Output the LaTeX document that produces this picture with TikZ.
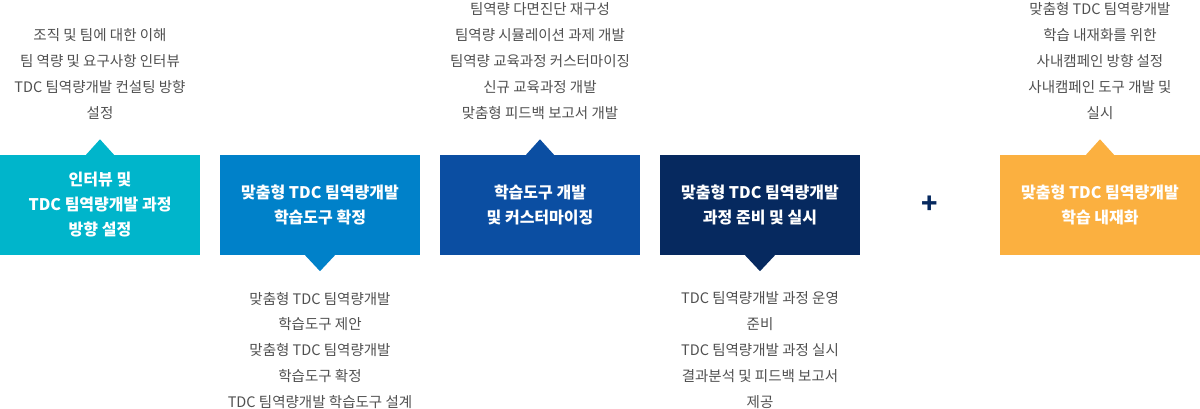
\documentclass[tikz,border=0pt]{standalone}
\usepackage{fontspec}
\setmainfont{Noto Sans CJK KR}
\usetikzlibrary{positioning}
\definecolor{interview}{HTML}{00B5CB}
\definecolor{tool}{HTML}{0081C9}
\definecolor{custom}{HTML}{0B4EA2}
\definecolor{run}{HTML}{06295F}
\definecolor{inner}{HTML}{FBB040}
\definecolor{notegray}{HTML}{505050}
\begin{document}
\begin{tikzpicture}[x=1pt, y=-1pt,
	stage/.style={minimum width=200pt, minimum height=100pt, inner sep=0pt, align=center, text=white, font=\fontsize{16}{25}\selectfont\bfseries},
	note/.style={align=center, inner sep=0pt, text=notegray, font=\fontsize{14.5}{25.9}\selectfont}]
		\useasboundingbox (0,0) rectangle (1200,409);
		\node[stage, fill=interview] (I) at (100,205) {인터뷰 및\\TDC 팀역량개발 과정\\방향 설정};
		\node[stage, fill=tool] (T) at (320,205) {맞춤형 TDC 팀역량개발\\학습도구 확정};
		\node[stage, fill=custom] (C) at (540,205) {학습도구 개발\\및 커스터마이징};
		\node[stage, fill=run] (R) at (760,205) {맞춤형 TDC 팀역량개발\\과정 준비 및 실시};
		\node[text=run, font=\fontsize{27}{27}\selectfont\bfseries] (P) at (930,205) {+};
		\node[stage, fill=inner] (N) at (1100,205) {맞춤형 TDC 팀역량개발\\학습 내재화};
		
		% pointers
		\fill[interview] (I.north) ++(-14,0) -- ++(14,-15.5) -- ++(14,15.5) -- cycle;
		\fill[tool] (T.south) ++(-15,0) -- ++(15,16) -- ++(15,-16) -- cycle;
		\fill[custom] (C.north) ++(-14,0) -- ++(14,-15.5) -- ++(14,15.5) -- cycle;
		\fill[run] (R.south) ++(-15,0) -- ++(15,16) -- ++(15,-16) -- cycle;
		\fill[inner] (N.north) ++(-14,0) -- ++(14,-15.5) -- ++(14,15.5) -- cycle;
		
		% notes
		\node[note, above=35pt of I] (In) {조직 및 팀에 대한 이해\\팀 역량 및 요구사항 인터뷰\\TDC 팀역량개발 컨설팅 방향\\설정};
		\node[note, below=36.5pt of T] (Tn) {맞춤형 TDC 팀역량개발\\학습도구 제안\\맞춤형 TDC 팀역량개발\\학습도구 확정\\TDC 팀역량개발 학습도구 설계};
		\node[note, above=35pt of C] (Cn) {팀역량 다면진단 재구성\\팀역량 시뮬레이션 과제 개발\\팀역량 교육과정 커스터마이징\\신규 교육과정 개발\\맞춤형 피드백 보고서 개발};
		\node[note, below=36.5pt of R] (Rn) {TDC 팀역량개발 과정 운영\\준비\\TDC 팀역량개발 과정 실시\\결과분석 및 피드백 보고서\\제공};
		\node[note, above=35pt of N] (Nn) {맞춤형 TDC 팀역량개발\\학습 내재화를 위한\\사내캠페인 방향 설정\\사내캠페인 도구 개발 및\\실시};
\end{tikzpicture}
\end{document}
